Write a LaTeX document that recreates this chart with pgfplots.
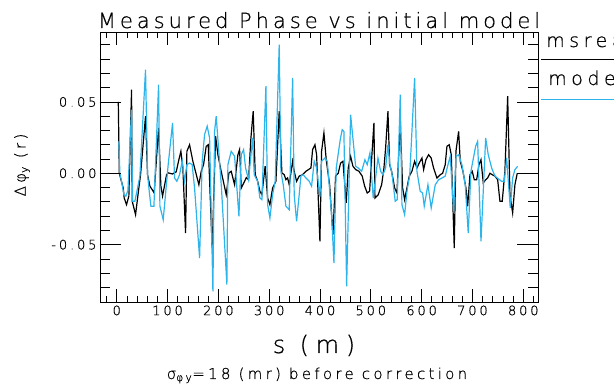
\documentclass[border=0pt]{standalone}
\usepackage{pgfplots}
\pgfplotsset{compat=1.18}
\usepackage{fontspec}
\setmainfont{DejaVu Sans ExtraLight}[FakeBold=0.6]
\newfontfamily\lsTitle{DejaVu Sans ExtraLight}[LetterSpace=19,FakeBold=0.6]
\newfontfamily\lsLeg{DejaVu Sans ExtraLight}[LetterSpace=24,FakeBold=0.6]
\newfontfamily\lsTick{DejaVu Sans ExtraLight}[LetterSpace=22,FakeBold=0.6]
\newfontfamily\lsLab{DejaVu Sans ExtraLight}[LetterSpace=28,FakeBold=0.6]
\newfontfamily\lsSub{DejaVu Sans ExtraLight}[LetterSpace=22,FakeBold=0.6]
\definecolor{modelc}{RGB}{45,180,235}

\pgfplotstableread{
s v
3 0.050
5 0.000
7.4 -0.0033
12.7 -0.0103
14.6 -0.0173
19.2 -0.022
23.8 -0.016
29.1 0.0586
30.4 -0.0196
37 -0.029
42.2 -0.0138
46.8 -0.001
56.6 0.040
60.6 -0.001
65.2 -0.009
69.7 -0.0115
73.6 -0.0138
82.3 0.0318
86.8 -0.009
90.1 -0.016
98 -0.001
101.2 0.0003
109.8 -0.0005
117 0.001
122.2 0.0095
126.2 0.0154
130.1 0.0037
135.4 -0.0419
138 0.0154
143.3 0.020
149.8 0.0084
161.6 -0.008
166.2 0.0014
170.8 0.006
176 0.0189
180 0.020
187.8 -0.0524
194.5 0.026
199 0.013
205.5 0.0014
215.4 -0.015
220.7 0.0002
225.2 0.0014
231.9 -0.008
238.4 0.013
241.7 0.0166
245 -0.0103
251.6 -0.0056
255 -0.003
259.4 -0.0045
264 0.0247
268.5 0.0435
272.5 -0.001
277.2 -0.0056
281.7 -0.0126
285.6 -0.015
292 0.005
296.9 -0.0173
301.4 -0.022
306.7 -0.0103
313.2 -0.0056
319.7 0.0435
325 0.0002
329.5 -0.001
332.9 -0.0045
336.2 -0.0033
339.4 -0.008
346.1 0.0084
349.2 0.0014
353.9 -0.0056
359 -0.002
365.7 -0.001
372.2 0.0014
382.1 0.0037
385.4 0.0166
390 0.020
393.3 0.013
399.8 -0.0477
403.1 0.0154
407.7 0.0283
412.2 0.0095
418.9 -0.008
425.4 -0.043
430.7 -0.002
435.8 0.0
440.5 0.0072
445.1 0.0084
451.6 -0.0208
455.5 0.0037
460.2 0.0119
464.8 0.0049
470.1 0.0026
476.6 0.0014
483.1 -0.002
487.8 -0.009
492.9 -0.0138
497.6 -0.0126
506.1 0.0353
508.1 -0.0173
514.6 -0.015
521.3 -0.008
525.8 0.0037
529.1 0.0177
533.7 0.0435
537 0.006
540.9 0.0014
546.9 -0.0103
551.4 -0.0138
557.9 0.0364
562.6 -0.0103
566.5 -0.0185
571.1 -0.0103
575.6 -0.002
580.9 0.0014
586.2 0.0084
590.7 0.0037
595.3 0.0072
600.6 0.0107
603.9 0.0026
608.4 0.0095
613.7 0.013
618.8 0.0107
623.5 0.0037
630.1 -0.0033
636.6 -0.001
641.3 0.0
646.4 0.006
649.8 0.0189
654.3 0.020
658.3 0.013
664.2 -0.0524
667.5 0.0154
672.8 0.0294
676 0.0084
681.3 0.0014
687.2 -0.0103
690.6 -0.0231
695.1 -0.001
699.6 0.0014
703.6 -0.0045
708.3 -0.0045
712.8 0.006
716.8 0.0095
721.3 -0.0068
726 -0.0045
729.9 -0.0033
734.5 0.0
739 -0.001
744.3 -0.002
749.6 -0.0045
754.1 -0.0196
758.6 -0.0196
763.9 0.0014
769.3 0.054
773.8 -0.015
779.1 -0.0278
783.6 -0.008
788.2 0.0
}\msread

\pgfplotstableread{
s v
4.1 0.0224
6.1 0.0
10 -0.0068
14 -0.015
17.9 -0.016
22 -0.012
29.1 0.0446
31 -0.0196
35.6 -0.0196
40 -0.012
45.5 -0.002
56.6 0.0726
60.6 -0.001
63.9 -0.0126
67.2 -0.0231
73.1 -0.0231
82.3 0.0621
84.9 -0.0231
91.4 -0.0325
101.2 0.006
109.8 0.0353
113.7 -0.0033
118.3 -0.0056
123.6 -0.001
128.8 0.0084
133.5 -0.0056
138 0.006
143.3 0.0072
148.4 0.006
153.1 -0.0103
163 -0.0594
168.1 0.0084
172.8 0.0271
178 0.033
182.7 0.0247
189.2 -0.0827
192.5 0.0294
195.7 0.040
206 -0.01
216.7 -0.078
218.7 0.006
225.2 0.0154
231.9 0.0119
240.4 -0.0301
245 0.013
249.6 0.0166
253.5 0.0037
259.4 -0.0045
267.3 0.0247
270.5 -0.001
277.2 -0.0056
281.7 -0.0173
285.6 -0.0185
293.5 0.061
296.9 -0.022
301.4 -0.0313
306.7 -0.015
311.8 -0.0056
319.7 0.0901
323 0.0014
327.6 -0.008
332.9 -0.0231
339.4 -0.0255
346.1 0.0668
349.2 -0.015
353.9 -0.0337
359 -0.015
362.4 -0.002
367 -0.001
372.2 -0.0033
378.7 -0.0056
383.4 -0.009
388.6 0.0084
393.3 0.0037
399.8 -0.0164
403 0.0084
409.7 0.0107
414.3 0.0084
422.8 -0.029
427.4 -0.0629
431.9 0.0037
439.8 0.0236
443.7 0.0306
447 0.0294
452.4 -0.0792
460.2 0.0411
470.1 0.0049
475.2 0.0037
481.9 0.0014
488.4 0.0095
492.9 0.006
498.2 0.0142
504.7 -0.0173
514 0.0107
519.3 0.0014
523.8 -0.001
529.1 0.0037
533.7 0.020
537.6 0.006
541.5 0.0
548 -0.0196
552 -0.0185
557.9 0.0551
561.2 -0.022
566.5 -0.029
571.1 -0.0126
576.6 -0.001
586.2 0.0668
590.7 0.0014
597.2 -0.0126
601.9 -0.0138
605.1 -0.0231
612.4 -0.008
618.8 -0.0243
626.8 -0.008
633.4 -0.0045
640 -0.0033
646.4 -0.002
651.8 0.006
656.3 0.0119
663 -0.0266
667.5 0.0119
672.8 0.013
679.3 0.006
685.8 -0.008
691.7 -0.0419
697 0.0014
706.3 0.0189
710.2 0.0224
716.8 -0.0477
726 0.0247
731.1 0.013
737.8 0.0037
744.3 -0.002
757.3 -0.0056
762.6 -0.0056
767.3 0.0107
774.4 -0.0243
779.1 -0.0033
783.6 0.0026
789 0.0049
}\model

\begin{document}
\begin{tikzpicture}
\useasboundingbox (0,0) rectangle (614pt,387pt);
\begin{axis}[
  at={(100pt,85pt)}, anchor=south west, scale only axis,
  width=438pt, height=270pt,
  xmin=-33, xmax=829, ymin=-0.0902, ymax=0.099,
  scaled x ticks=false, scaled y ticks=false,
  axis line style={line width=0.9pt},
  tick align=inside, xtick pos=both,
  xtick={0,100,...,800},
  xticklabels={0,100,200,300,400,500,600,700,800},
  minor xtick={-20,0,...,820},
  major tick length=13pt, minor tick length=6pt,
  tick style={black, line width=0.7pt},
  ytick=\empty,
  xticklabel style={font=\lsTick\fontsize{13}{13}\selectfont},
]
\addplot[black, line width=1.2pt] table[x=s,y=v] {\msread};
\addplot[modelc, line width=1.2pt] table[x=s,y=v] {\model};
\end{axis}
\begin{axis}[
  at={(100pt,85pt)}, anchor=south west, scale only axis,
  width=438pt, height=270pt,
  xmin=-33, xmax=829, ymin=-0.0902, ymax=0.099,
  scaled x ticks=false, scaled y ticks=false,
  hide x axis, axis line style={line width=0.9pt},
  tick align=inside, ytick pos=both,
  ytick={-0.05,0,0.05}, yticklabels={-0.05,0.00,0.05},
  minor ytick={-0.08,-0.07,...,0.09},
  major tick length=21pt, minor tick length=10pt,
  tick style={black, line width=0.7pt},
  yticklabel style={font=\lsTick\fontsize{13}{13}\selectfont},
]
\end{axis}
\node[anchor=base, font=\lsTitle\fontsize{21}{21}\selectfont] at (319pt,359pt) {Measured Phase vs initial model};
\node[anchor=base, font=\lsLab\fontsize{24}{24}\selectfont] at (314pt,34pt) {s (m)};
\node[anchor=base, font=\lsSub\fontsize{15}{15}\selectfont] at (317pt,8pt) {σ\textsubscript{φy}=18 (mr) before correction};
\node[rotate=90, font=\lsSub\fontsize{15}{15}\selectfont] at (22pt,222pt) {Δφ\textsubscript{y} (r)};
\node[anchor=base west, inner sep=0pt, font=\lsLeg\fontsize{19}{19}\selectfont] at (546pt,340pt) {msread};
\draw[black, line width=1.5pt] (541pt,327.5pt) -- (614pt,327.5pt);
\node[anchor=base west, inner sep=0pt, font=\lsLeg\fontsize{19}{19}\selectfont] at (548pt,302pt) {model};
\draw[modelc, line width=1.6pt] (541pt,287.5pt) -- (614pt,287.5pt);
\end{tikzpicture}
\end{document}
